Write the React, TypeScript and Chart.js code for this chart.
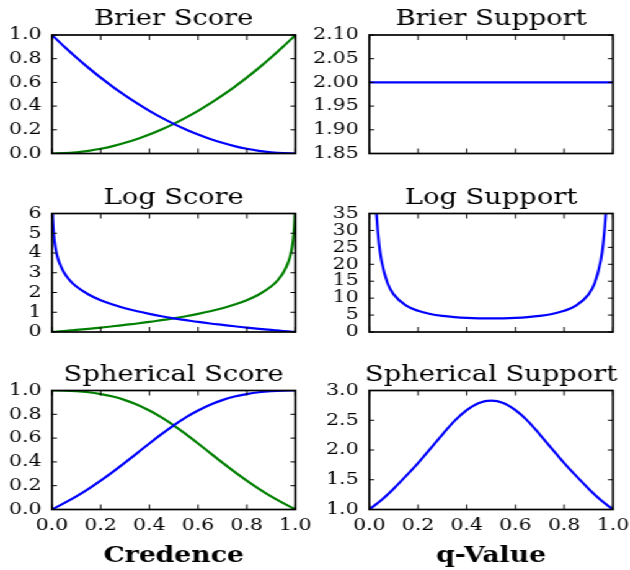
import React, { useEffect, useRef } from 'react';
import { Chart, registerables } from 'chart.js';

Chart.register(...registerables);

// ---- data ----
const credence = [0, 0.05, 0.1, 0.15, 0.2, 0.25, 0.3, 0.35, 0.4, 0.45, 0.5, 0.55, 0.6, 0.65, 0.7, 0.75, 0.8, 0.85, 0.9, 0.95, 1];
const brierBlue = [1, 0.9025, 0.81, 0.7225, 0.64, 0.5625, 0.49, 0.4225, 0.36, 0.3025, 0.25, 0.2025, 0.16, 0.1225, 0.09, 0.0625, 0.04, 0.0225, 0.01, 0.0025, 0];
const brierGreen = [0, 0.0025, 0.01, 0.0225, 0.04, 0.0625, 0.09, 0.1225, 0.16, 0.2025, 0.25, 0.3025, 0.36, 0.4225, 0.49, 0.5625, 0.64, 0.7225, 0.81, 0.9025, 1];
const brierSupport = [2, 2, 2, 2, 2, 2, 2, 2, 2, 2, 2, 2, 2, 2, 2, 2, 2, 2, 2, 2, 2];

const logGrid = [0.001, 0.0025, 0.005, 0.01, 0.02, 0.03, 0.05, 0.075, 0.1, 0.15, 0.2, 0.25, 0.3, 0.35, 0.4, 0.45, 0.5, 0.55, 0.6, 0.65, 0.7, 0.75, 0.8, 0.85, 0.9, 0.925, 0.95, 0.97, 0.98, 0.99, 0.995, 0.9975, 0.999];
const logBlue = [6.91, 5.99, 5.3, 4.61, 3.91, 3.51, 3.0, 2.59, 2.3, 1.9, 1.61, 1.39, 1.2, 1.05, 0.92, 0.8, 0.69, 0.6, 0.51, 0.43, 0.36, 0.29, 0.22, 0.16, 0.105, 0.078, 0.051, 0.03, 0.02, 0.01, 0.005, 0.0025, 0.001];
const logGreen = [0.001, 0.0025, 0.005, 0.01, 0.02, 0.03, 0.051, 0.078, 0.105, 0.16, 0.22, 0.29, 0.36, 0.43, 0.51, 0.6, 0.69, 0.8, 0.92, 1.05, 1.2, 1.39, 1.61, 1.9, 2.3, 2.59, 3.0, 3.51, 3.91, 4.61, 5.3, 5.99, 6.91];

const supportGrid = [0.02, 0.025, 0.03, 0.04, 0.05, 0.075, 0.1, 0.15, 0.2, 0.25, 0.3, 0.35, 0.4, 0.45, 0.5, 0.55, 0.6, 0.65, 0.7, 0.75, 0.8, 0.85, 0.9, 0.925, 0.95, 0.96, 0.97, 0.975, 0.98];
const logSupport = [51.0, 41.0, 34.4, 26.0, 21.1, 14.4, 11.1, 7.84, 6.25, 5.33, 4.76, 4.4, 4.17, 4.04, 4.0, 4.04, 4.17, 4.4, 4.76, 5.33, 6.25, 7.84, 11.1, 14.4, 21.1, 26.0, 34.4, 41.0, 51.0];

const sphBlue = [0, 0.053, 0.11, 0.174, 0.243, 0.316, 0.394, 0.474, 0.555, 0.633, 0.707, 0.774, 0.832, 0.881, 0.919, 0.949, 0.97, 0.985, 0.994, 0.999, 1];
const sphGreen = [1, 0.999, 0.994, 0.985, 0.97, 0.949, 0.919, 0.881, 0.832, 0.774, 0.707, 0.633, 0.555, 0.474, 0.394, 0.316, 0.243, 0.174, 0.11, 0.053, 0];
const sphSupport = [1, 1.16, 1.35, 1.56, 1.78, 2.02, 2.26, 2.49, 2.67, 2.79, 2.83, 2.79, 2.67, 2.49, 2.26, 2.02, 1.78, 1.56, 1.35, 1.16, 1];

const xTicks = [0, 0.2, 0.4, 0.6, 0.8, 1.0];
const brierScoreTicks = [0, 0.2, 0.4, 0.6, 0.8, 1.0];
const brierSupportTicks = [1.85, 1.9, 1.95, 2.0, 2.05, 2.1];
const logScoreTicks = [0, 1, 2, 3, 4, 5, 6];
const logSupportTicks = [0, 5, 10, 15, 20, 25, 30, 35];
const sphScoreTicks = [0, 0.2, 0.4, 0.6, 0.8, 1.0];
const sphSupportTicks = [1.0, 1.5, 2.0, 2.5, 3.0];

const titles = ['Brier Score', 'Brier Support', 'Log Score', 'Log Support', 'Spherical Score', 'Spherical Support'];
const xLabels = ['Credence', 'q-Value'];

// ---- layout (original, un-stretched coordinates) ----
const SX = 1.24;
const W = 630 / SX;
const H = 570;
const colX = [[52 / SX, 295.5 / SX], [369.3 / SX, 613 / SX]];
const rowY = [[35, 153.5], [213.5, 332], [390.5, 509.5]];
const BLUE = '#0000ff';
const GREEN = '#008000';
const FONT = '"DejaVu Serif", serif';

type Series = { xs: number[]; ys: number[]; color: string };
type Panel = {
  title: string;
  col: number;
  row: number;
  series: Series[];
  yMin: number;
  yMax: number;
  yTicks: number[];
  yDec: number;
  xLabel?: string;
};

const panels: Panel[] = [
  { title: titles[0], col: 0, row: 0, series: [{ xs: credence, ys: brierBlue, color: BLUE }, { xs: credence, ys: brierGreen, color: GREEN }], yMin: 0, yMax: 1, yTicks: brierScoreTicks, yDec: 1 },
  { title: titles[1], col: 1, row: 0, series: [{ xs: credence, ys: brierSupport, color: BLUE }], yMin: 1.85, yMax: 2.1, yTicks: brierSupportTicks, yDec: 2 },
  { title: titles[2], col: 0, row: 1, series: [{ xs: logGrid, ys: logBlue, color: BLUE }, { xs: logGrid, ys: logGreen, color: GREEN }], yMin: 0, yMax: 6, yTicks: logScoreTicks, yDec: 0 },
  { title: titles[3], col: 1, row: 1, series: [{ xs: supportGrid, ys: logSupport, color: BLUE }], yMin: 0, yMax: 35, yTicks: logSupportTicks, yDec: 0 },
  { title: titles[4], col: 0, row: 2, series: [{ xs: credence, ys: sphBlue, color: BLUE }, { xs: credence, ys: sphGreen, color: GREEN }], yMin: 0, yMax: 1, yTicks: sphScoreTicks, yDec: 1, xLabel: xLabels[0] },
  { title: titles[5], col: 1, row: 2, series: [{ xs: credence, ys: sphSupport, color: BLUE }], yMin: 1, yMax: 3, yTicks: sphSupportTicks, yDec: 1, xLabel: xLabels[1] },
];

const XH = 30;

const framePlugin = {
  id: 'mplFrame',
  afterDatasetsDraw(chart: any) {
    const { ctx, chartArea, scales } = chart;
    const { left, right, top, bottom } = chartArea;
    const p: Panel = chart.options.plugins.mplFrame.panel;
    ctx.save();
    ctx.strokeStyle = '#000';
    ctx.lineWidth = 1;
    ctx.beginPath();
    scales.x.ticks.forEach((t: any) => {
      const px = scales.x.getPixelForValue(t.value);
      ctx.moveTo(px, bottom);
      ctx.lineTo(px, bottom - 5);
      ctx.moveTo(px, top);
      ctx.lineTo(px, top + 5);
    });
    scales.y.ticks.forEach((t: any) => {
      const py = scales.y.getPixelForValue(t.value);
      ctx.moveTo(left, py);
      ctx.lineTo(left + 4, py);
      ctx.moveTo(right, py);
      ctx.lineTo(right - 4, py);
    });
    ctx.stroke();
    ctx.lineWidth = 1.7;
    ctx.strokeRect(left, top, right - left, bottom - top);

    ctx.fillStyle = '#000';
    ctx.textAlign = 'center';
    ctx.textBaseline = 'alphabetic';
    ctx.font = `22px ${FONT}`;
    ctx.fillText(p.title, (left + right) / 2, top - 10);
    if (p.xLabel) {
      ctx.font = `bold 21.5px ${FONT}`;
      ctx.fillText(p.xLabel, (left + right) / 2, 562);
    }
    ctx.restore();
  },
};

export default function App() {
  const refs = useRef<(HTMLCanvasElement | null)[]>([]);

  useEffect(() => {
    const charts = panels.map((p, i) => {
      const canvas = refs.current[i]!;
      const [L, R] = colX[p.col];
      const [T, B] = rowY[p.row];
      const YW = Math.min(L, 60);
      return new Chart(canvas, {
        type: 'line',
        data: {
          datasets: p.series.map((s) => ({
            data: s.xs.map((x, k) => ({ x, y: s.ys[k] })),
            borderColor: s.color,
            borderWidth: 2.2,
            pointRadius: 0,
            fill: false,
            cubicInterpolationMode: 'monotone' as const,
          })),
        },
        options: {
          responsive: false,
          animation: false,
          devicePixelRatio: 1,
          events: [],
          layout: {
            padding: { left: L - YW, right: W - R, top: T, bottom: H - B - XH },
          },
          plugins: {
            legend: { display: false },
            tooltip: { enabled: false },
            mplFrame: { panel: p },
          } as any,
          scales: {
            x: {
              type: 'linear',
              min: 0,
              max: 1,
              grid: { display: false, drawTicks: false },
              border: { display: false },
              ticks: {
                display: p.row === 2,
                autoSkip: false,
                padding: 6.5,
                color: '#000',
                font: { family: FONT, size: 16.5 },
                maxRotation: 0,
                callback: (v: any) => Number(v).toFixed(1),
              },
              afterBuildTicks: (scale: any) => {
                scale.ticks = xTicks.map((v) => ({ value: v }));
              },
              afterFit: (scale: any) => {
                scale.height = XH;
                scale.paddingLeft = 0;
                scale.paddingRight = 0;
              },
            },
            y: {
              type: 'linear',
              min: p.yMin,
              max: p.yMax,
              grid: { display: false, drawTicks: false },
              border: { display: false },
              ticks: {
                autoSkip: false,
                padding: 8.5,
                color: '#000',
                font: { family: FONT, size: 16.5 },
                callback: (v: any) => Number(v).toFixed(p.yDec),
              },
              afterBuildTicks: (scale: any) => {
                scale.ticks = p.yTicks.map((v) => ({ value: v }));
              },
              afterFit: (scale: any) => {
                scale.width = YW;
                scale.paddingTop = 0;
                scale.paddingBottom = 0;
              },
            },
          },
        },
        plugins: [framePlugin],
      });
    });
    return () => charts.forEach((c) => c.destroy());
  }, []);

  return (
    <div
      style={{
        position: 'absolute',
        left: 0,
        top: 0,
        width: W,
        height: H,
        transform: `scaleX(${SX})`,
        transformOrigin: '0 0',
        background: '#fff',
      }}
    >
      {panels.map((p, i) => (
        <canvas
          key={i}
          ref={(el) => {
            refs.current[i] = el;
          }}
          width={Math.round(W)}
          height={H}
          style={{ position: 'absolute', left: 0, top: 0 }}
        />
      ))}
    </div>
  );
}
